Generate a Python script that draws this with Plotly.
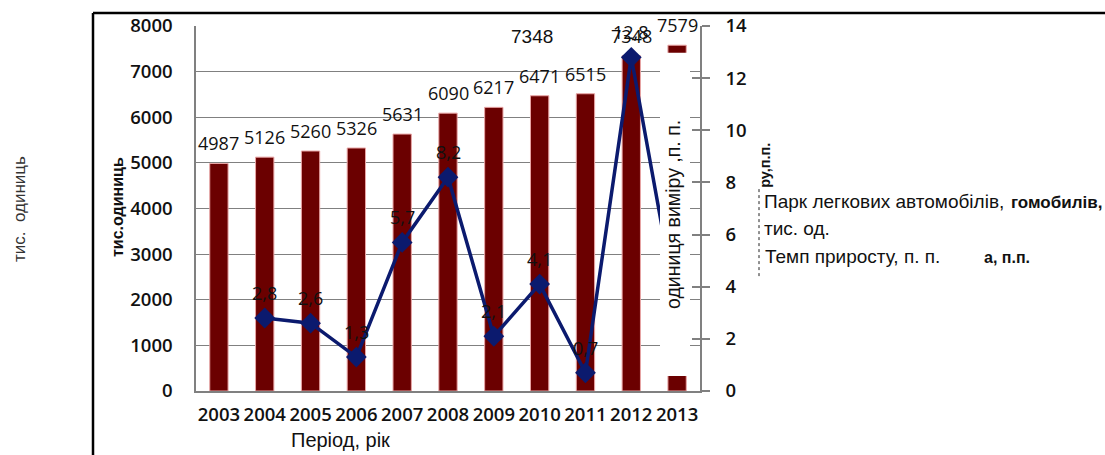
import plotly.graph_objects as go

# ---- data ----
years = ["2003", "2004", "2005", "2006", "2007", "2008", "2009", "2010", "2011", "2012", "2013"]
cars = [4987, 5126, 5260, 5326, 5631, 6090, 6217, 6471, 6515, 7348, 7579]
growth = [None, 2.8, 2.6, 1.3, 5.7, 8.2, 2.1, 4.1, 0.7, 12.8, 3.1]
y_left_ticks = [0, 1000, 2000, 3000, 4000, 5000, 6000, 7000, 8000]
y_right_ticks = [0, 2, 4, 6, 8, 10, 12, 14]

W, H = 1105, 455
L, R, T, B = 196, 700, 24, 391   # plot area in px


def px(x):
    return (x - L) / (R - L)


def py(y):
    return (B - y) / (B - T)


BAR = "#6b0000"
LINE = "#0b1a6e"
NUMF = "Open Sans"
TXTF = "Liberation Sans"

fig = go.Figure()
fig.add_trace(go.Bar(
    x=years, y=cars, marker=dict(color=BAR, line=dict(color="#e9a5a5", width=1)),
    yaxis="y", name="Парк легкових автомобілів, тис. од."))
fig.add_trace(go.Scatter(
    x=years, y=growth, yaxis="y2", mode="lines+markers",
    line=dict(color=LINE, width=3.5),
    marker=dict(symbol="diamond", size=16, color=LINE),
    name="Темп приросту, п. п."))
# invisible trace for inner tick marks on right axis
fig.add_trace(go.Scatter(x=years, y=[None] * len(years), yaxis="y3", showlegend=False))

ann = []
for i, v in enumerate(cars):
    ann.append(dict(x=i, y=v, xref="x", yref="y", yshift=20, text=str(v), showarrow=False,
                    xanchor="center", yanchor="middle",
                    font=dict(family=NUMF, size=18, color="#111")))
# the last growth label lies under the white box of the right-axis title
for i, g in enumerate(growth[:-1]):
    if g is None:
        continue
    ann.append(dict(x=i, y=g, xref="x", yref="y2", yshift=25, text=f"{g:.1f}".replace(".", ","),
                    showarrow=False, xanchor="center", yanchor="middle",
                    font=dict(family=NUMF, size=18, color="#111")))


def pa(x, y, text, size, angle=0, xanchor="center", yanchor="middle", color="#111", **kw):
    d = dict(x=px(x), y=py(y), xref="paper", yref="paper", text=text, showarrow=False,
             textangle=angle, xanchor=xanchor, yanchor=yanchor,
             font=dict(family=TXTF, size=size, color=color))
    d.update(kw)
    return d


# floating label with white background
ann.append(pa(532, 35, "7348", 19, bgcolor="white", borderpad=6))
# right axis title (sits on a white box)
ann.append(pa(673, 214, "одиниця виміру ,п. п.", 19.5, angle=-90))
# partially visible bold title behind legend
ann.append(pa(765, 140, "<b>ру,п.п.</b>", 14.5, angle=-90, yanchor="top"))
# legend texts
ann += [
    pa(762, 200, "Парк легкових автомобілів,", 19, xanchor="left"),
    pa(1009, 201, "<b>гомобилів,</b>", 17, xanchor="left"),
    pa(762, 228, "тис. од.", 19, xanchor="left"),
    pa(763, 256, "Темп приросту, п. п.", 19, xanchor="left"),
    pa(982, 257, "<b>а, п.п.</b>", 16, xanchor="left"),
]
# axis titles
ann += [
    pa(340, 440, "Період, рік", 20),
    pa(117, 206, "<b>тис.одиниць</b>", 16, angle=-90),
    pa(20, 208, "тис.  одиниць", 17, angle=-90, color="#333"),
]

shapes = [
    # white box of the right-axis title, hiding the 2013 column
    dict(type="rect", xref="paper", yref="paper", x0=px(660), x1=px(690), y0=py(376), y1=py(51),
         fillcolor="white", line=dict(width=0), layer="above"),
    # white legend box
    dict(type="rect", xref="paper", yref="paper", x0=px(761), x1=px(1110), y0=py(280), y1=py(187),
         fillcolor="white", line=dict(width=0), layer="above"),
    dict(type="line", xref="paper", yref="paper", x0=px(759), x1=px(759), y0=py(188), y1=py(278),
         line=dict(color="#222", width=1, dash="dot"), layer="above"),
    # outer frame
    dict(type="line", xref="paper", yref="paper", x0=px(93), x1=px(1110), y0=py(11), y1=py(11),
         line=dict(color="black", width=2.5), layer="above"),
    dict(type="line", xref="paper", yref="paper", x0=px(93), x1=px(93), y0=py(11), y1=py(460),
         line=dict(color="black", width=2.5), layer="above"),
]

GRID = "#808080"
fig.update_layout(
    width=W, height=H, autosize=False,
    margin=dict(l=L, r=W - R, t=T, b=H - B, pad=0),
    paper_bgcolor="white", plot_bgcolor="white",
    showlegend=False, bargap=0.6,
    xaxis=dict(type="category", range=[-0.5, 10.5], showline=True, linecolor=GRID, linewidth=1.5,
               ticks="", tickfont=dict(family=NUMF, size=18.5, color="#111", weight=600),
               ticklabelstandoff=6),
    yaxis=dict(range=[0, 8000], tickvals=y_left_ticks, showgrid=True, gridcolor=GRID, gridwidth=1.3,
               showline=True, linecolor=GRID, linewidth=1.5, zeroline=False, ticks="",
               tickfont=dict(family=NUMF, size=18.5, color="#111", weight=600), ticklabelstandoff=18),
    yaxis2=dict(range=[0, 14], tickvals=y_right_ticks, overlaying="y", side="right", showgrid=False,
                zeroline=False, showline=True, linecolor=GRID, linewidth=1.5, ticks="outside",
                ticklen=8, tickcolor=GRID, tickwidth=1.5,
                tickfont=dict(family=NUMF, size=18.5, color="#111", weight=600), ticklabelstandoff=12),
    yaxis3=dict(range=[0, 14], tickvals=y_right_ticks, overlaying="y", side="right", showgrid=False,
                zeroline=False, showline=False, ticks="inside", ticklen=8, tickcolor=GRID, tickwidth=1.5,
                showticklabels=False),
    annotations=ann, shapes=shapes,
)
fig.write_html("out.html", config={"displayModeBar": False},
               post_script="document.body.style.margin='0';document.body.style.overflow='hidden';")
